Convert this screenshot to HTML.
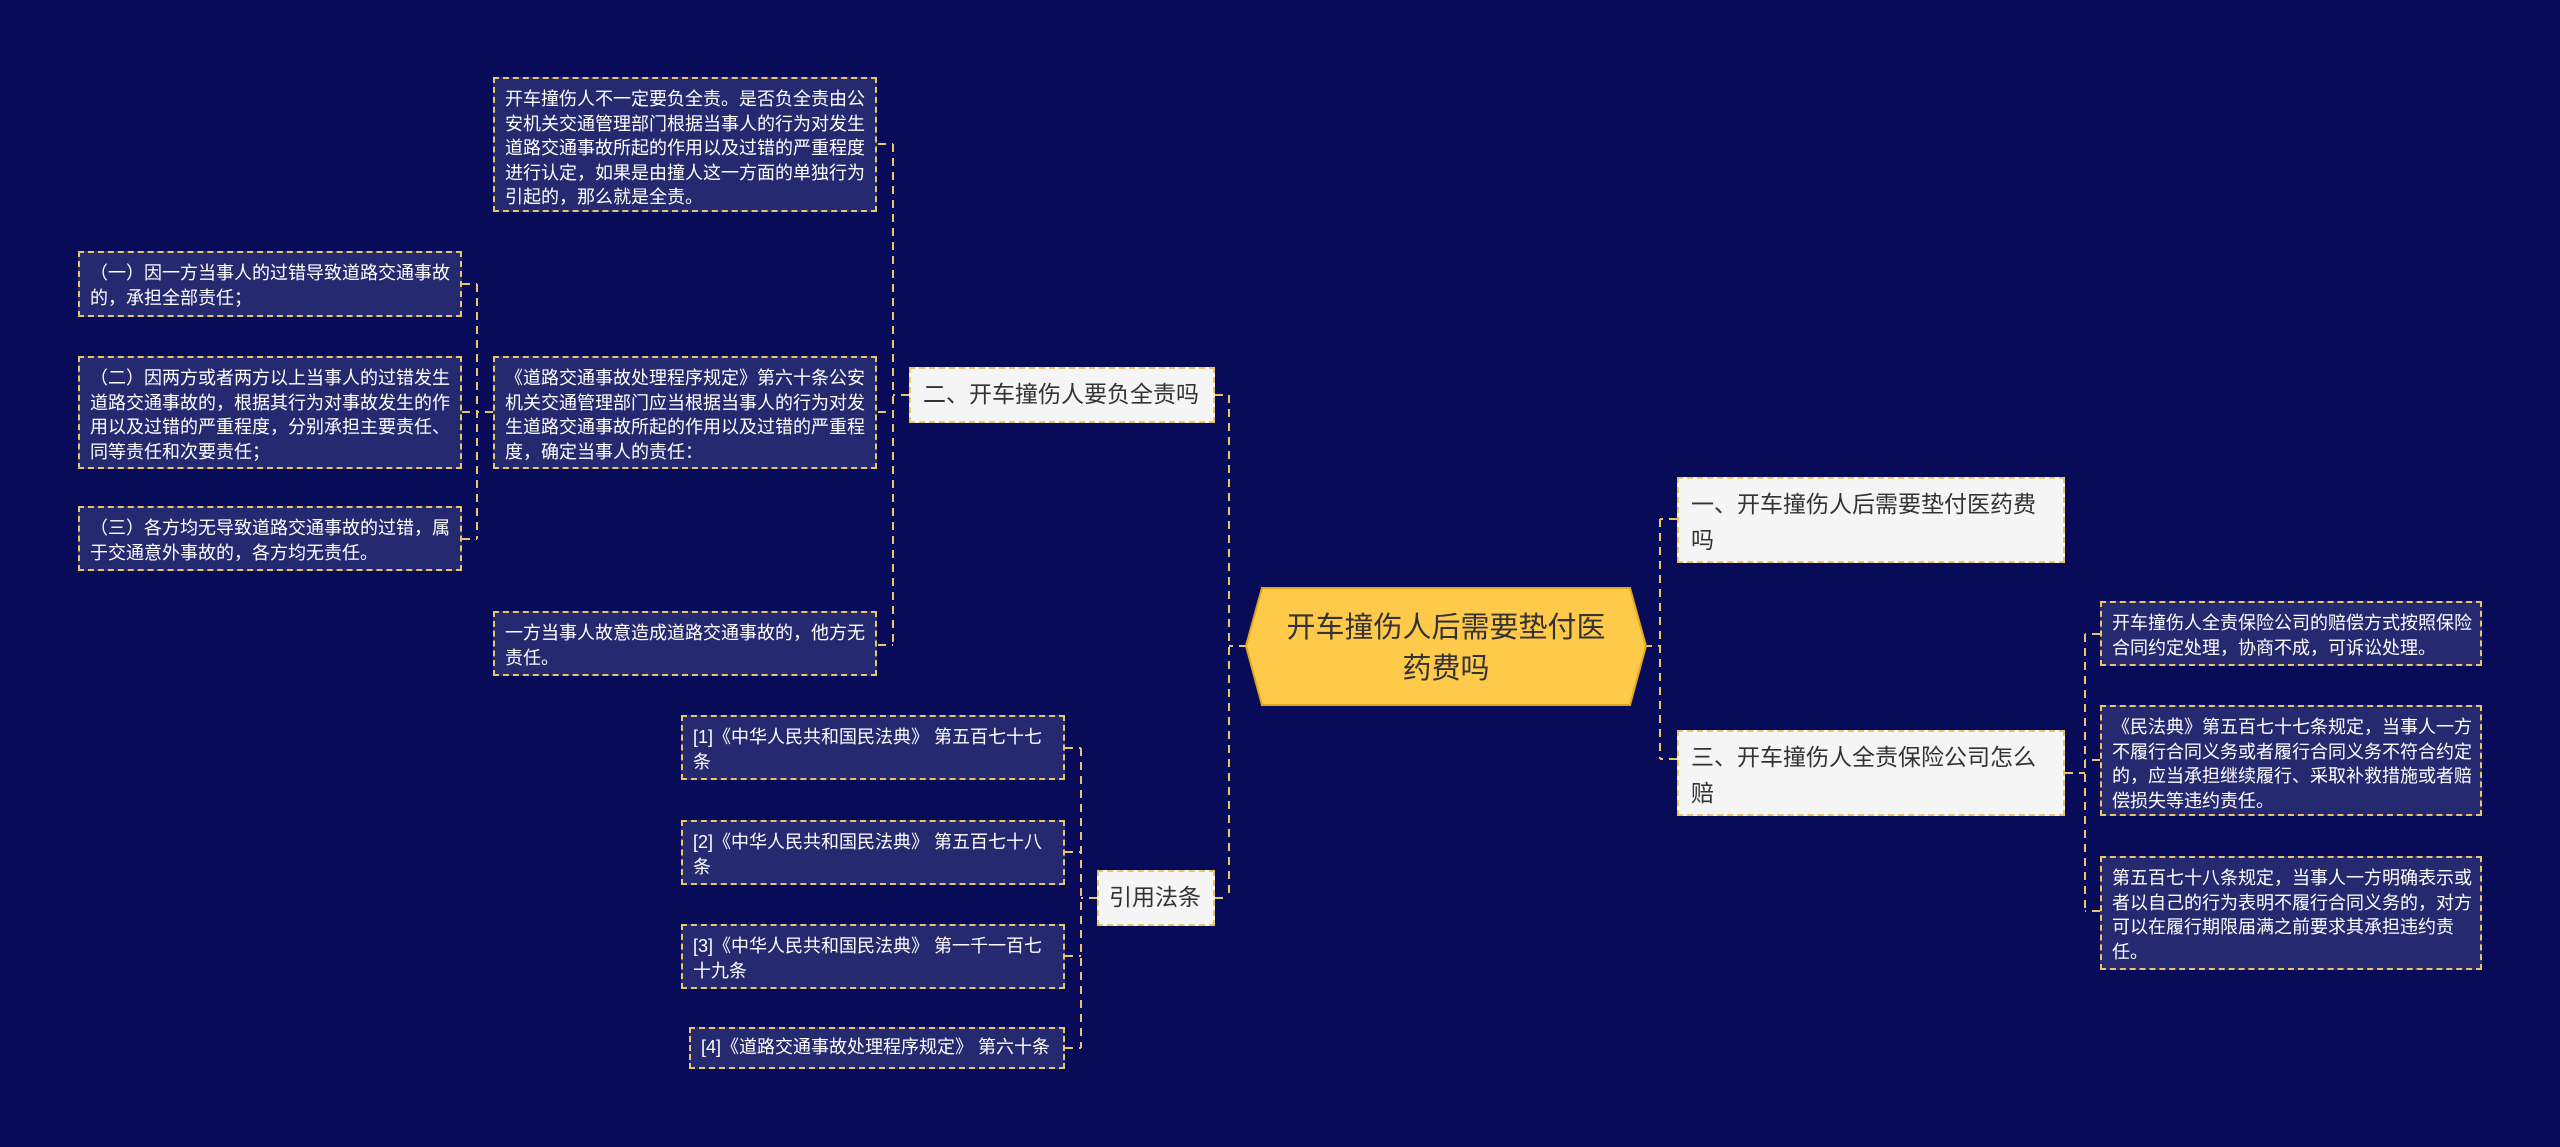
<!DOCTYPE html>
<html><head><meta charset="utf-8"><style>
html,body{margin:0;padding:0;}
body{width:2560px;height:1147px;background:#080c58;position:relative;overflow:hidden;font-family:"Liberation Sans","Noto Sans CJK SC",sans-serif;}
.b{position:absolute;box-sizing:border-box;border:2px dashed #e9c46a;}
.leaf{background:#252a70;color:#fff;font-size:18px;line-height:24.5px;padding:8px 8px 7px 10px;}
.mid{background:#f5f5f5;color:#333;font-size:23px;line-height:36px;padding:7px 12px;border-color:#e9c46a;white-space:normal;}
svg{position:absolute;left:0;top:0;}
</style></head><body>
<svg width="2560" height="1147">
<g stroke="#e9c46a" stroke-width="2" stroke-dasharray="8 6" fill="none">
<path d="M1247 646 H1229 M1229 395 V898 M1215 395 H1229 M1215 898 H1229"/>
<path d="M909 395 H893 M893 144 V645 M878 144 H893 M878 412 H893 M878 645 H893"/>
<path d="M493 412 H477 M477 284 V539 M462 284 H477 M462 412 H477 M462 539 H477"/>
<path d="M1097 898 H1081 M1081 748 V1048 M1065 748 H1081 M1065 852 H1081 M1065 956 H1081 M1065 1048 H1081"/>
<path d="M1644 646 H1660 M1660 519 V759 M1677 519 H1660 M1677 759 H1660"/>
<path d="M2065 773 H2085 M2085 634 V911 M2100 634 H2085 M2100 760 H2085 M2100 911 H2085"/>
</g>
<polygon points="1262,588 1630,588 1646,646 1630,705 1262,705 1246,646" fill="#ffc94a" stroke="#e0a820" stroke-width="2"/>
<text x="1446" y="637" font-size="29" fill="#333" text-anchor="middle" font-family="Liberation Sans, Noto Sans CJK SC, sans-serif">开车撞伤人后需要垫付医</text>
<text x="1446" y="678" font-size="29" fill="#333" text-anchor="middle" font-family="Liberation Sans, Noto Sans CJK SC, sans-serif">药费吗</text>
</svg>

<div class="b mid" style="left:1677px;top:477px;width:388px;height:86px;">一、开车撞伤人后需要垫付医药费吗</div>
<div class="b mid" style="left:1677px;top:730px;width:388px;height:86px;">三、开车撞伤人全责保险公司怎么赔</div>
<div class="b leaf" style="left:2100px;top:601px;width:382px;height:65px;">开车撞伤人全责保险公司的赔偿方式按照保险合同约定处理，协商不成，可诉讼处理。</div>
<div class="b leaf" style="left:2100px;top:705px;width:382px;height:111px;">《民法典》第五百七十七条规定，当事人一方不履行合同义务或者履行合同义务不符合约定的，应当承担继续履行、采取补救措施或者赔偿损失等违约责任。</div>
<div class="b leaf" style="left:2100px;top:856px;width:382px;height:114px;">第五百七十八条规定，当事人一方明确表示或者以自己的行为表明不履行合同义务的，对方可以在履行期限届满之前要求其承担违约责任。</div>

<div class="b mid" style="left:909px;top:367px;width:306px;height:56px;white-space:nowrap;">二、开车撞伤人要负全责吗</div>
<div class="b leaf" style="left:493px;top:77px;width:384px;height:135px;">开车撞伤人不一定要负全责。是否负全责由公安机关交通管理部门根据当事人的行为对发生道路交通事故所起的作用以及过错的严重程度进行认定，如果是由撞人这一方面的单独行为引起的，那么就是全责。</div>
<div class="b leaf" style="left:493px;top:356px;width:384px;height:113px;">《道路交通事故处理程序规定》第六十条公安机关交通管理部门应当根据当事人的行为对发生道路交通事故所起的作用以及过错的严重程度，确定当事人的责任：</div>
<div class="b leaf" style="left:493px;top:611px;width:384px;height:65px;">一方当事人故意造成道路交通事故的，他方无责任。</div>
<div class="b leaf" style="left:78px;top:251px;width:384px;height:66px;">（一）因一方当事人的过错导致道路交通事故的，承担全部责任；</div>
<div class="b leaf" style="left:78px;top:356px;width:384px;height:113px;">（二）因两方或者两方以上当事人的过错发生道路交通事故的，根据其行为对事故发生的作用以及过错的严重程度，分别承担主要责任、同等责任和次要责任；</div>
<div class="b leaf" style="left:78px;top:506px;width:384px;height:65px;">（三）各方均无导致道路交通事故的过错，属于交通意外事故的，各方均无责任。</div>

<div class="b mid" style="left:1097px;top:870px;width:118px;height:56px;white-space:nowrap;padding:7px 10px;">引用法条</div>
<div class="b leaf" style="left:681px;top:715px;width:384px;height:65px;">[1]《中华人民共和国民法典》 第五百七十七条</div>
<div class="b leaf" style="left:681px;top:820px;width:384px;height:65px;">[2]《中华人民共和国民法典》 第五百七十八条</div>
<div class="b leaf" style="left:681px;top:924px;width:384px;height:65px;">[3]《中华人民共和国民法典》 第一千一百七十九条</div>
<div class="b leaf" style="left:689px;top:1027px;width:376px;height:42px;padding-top:6px;white-space:nowrap;">[4]《道路交通事故处理程序规定》 第六十条</div>
</body></html>
